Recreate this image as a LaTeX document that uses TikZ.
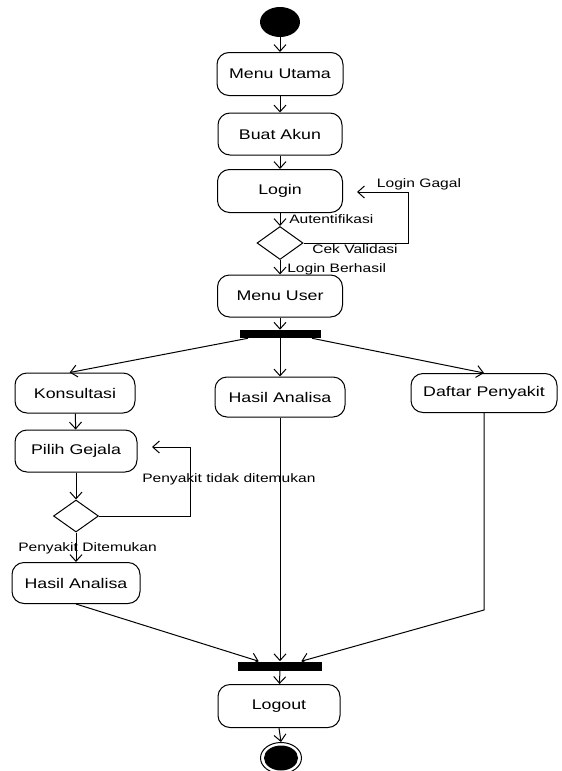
\documentclass[tikz,border=0pt]{standalone}
\usepackage{fontspec}
\setmainfont{Liberation Sans}[FakeStretch=1.27]
\usetikzlibrary{arrows.meta,shapes.geometric,calc}
\begin{document}
\begin{tikzpicture}[x=0.75pt,y=-0.75pt,
  every node/.style={inner sep=0pt},
  box/.style={draw,line width=0.75pt,rounded corners=9pt,font=\fontsize{10.5}{12}\selectfont,align=center},
  dec/.style={draw,line width=0.75pt,diamond,aspect=1.4,minimum width=34.5pt,minimum height=24.75pt},
  bar/.style={fill=black,draw=none,rectangle},
  lbl/.style={font=\fontsize{9.2}{10}\selectfont},
  arr/.style={draw,line width=0.75pt,-{Straight Barb[length=5pt,width=9pt]}},
  ln/.style={draw,line width=0.75pt}]
\useasboundingbox (0,0) rectangle (561,771);
% nodes
\node[ellipse,fill=black,minimum width=30pt,minimum height=22.5pt] (start) at (280,22) {};
\node[box,minimum width=94.5pt,minimum height=32.25pt] (mu) at (280,74) {Menu Utama};
\node[box,minimum width=93pt,minimum height=31.5pt] (ba) at (280,134) {Buat Akun};
\node[box,minimum width=93.75pt,minimum height=32.25pt] (login) at (280,191) {Login};
\node[dec] (d1) at (280,243) {};
\node[box,minimum width=93.75pt,minimum height=31.5pt] (muser) at (280,296) {Menu User};
\node[bar,minimum width=60.75pt,minimum height=6pt] (fork) at (280,334) {};
\node[box,minimum width=90pt,minimum height=30pt] (kons) at (75,393) {Konsultasi};
\node[box,minimum width=97.5pt,minimum height=30pt] (hasil) at (280,397) {Hasil Analisa};
\node[box,minimum width=109.5pt,minimum height=29.25pt] (daftar) at (484,393) {Daftar Penyakit};
\node[box,minimum width=91.5pt,minimum height=31.5pt] (pilih) at (76,451) {Pilih Gejala};
\node[dec,minimum width=33.75pt,minimum height=24pt] (d2) at (76,516) {};
\node[box,minimum width=96pt,minimum height=30.75pt] (hasil2) at (76,583) {Hasil Analisa};
\node[bar,minimum width=63pt,minimum height=6.75pt] (join) at (280,666) {};
\node[box,minimum width=91.5pt,minimum height=32.25pt] (logout) at (279,706) {Logout};
\node[ellipse,draw,line width=0.75pt,minimum width=30.75pt,minimum height=23.25pt] (end) at (281,758) {};
\node[ellipse,fill=black,minimum width=25.5pt,minimum height=18.75pt] (endin) at (281,758) {};
% helper coordinates
\coordinate (c1) at (408,192);
\coordinate (e1) at (357,192);
\coordinate (c2) at (190,447);
\coordinate (e2) at (152,447);
\coordinate (c3) at (484,610);
% connectors
\draw[arr] (start) -- (mu);
\draw[arr] (mu) -- (ba);
\draw[arr] (ba) -- (login);
\draw[arr] (login) -- (d1);
\draw[arr] (d1) -- (muser);
\draw[arr] (muser) -- (fork);
\draw[arr] ([xshift=-24pt]fork.south) -- ([xshift=-4pt]kons.north);
\draw[arr] (fork) -- (hasil);
\draw[arr] ([xshift=24pt]fork.south) -- (daftar.north);
\draw[arr] (kons) -- (pilih);
\draw[arr] (pilih) -- (d2);
\draw[arr] (d2) -- (hasil2);
\draw[arr] (d1.east) -| (c1) -- (e1);
\draw[arr] (d2.east) -| (c2) -- (e2);
\draw[arr] (hasil2.south) -- ([xshift=-16pt]join.north);
\draw[arr] (hasil) -- (join);
\draw[arr] (daftar.south) -- (c3) -- ([xshift=16pt]join.north);
\draw[arr] (join) -- (logout);
\draw[arr] (logout.south) -- (end.north);
% labels
\node[lbl] (l1) at (419,184) {Login Gagal};
\node[lbl,anchor=west] (l2) at (289,219) {Autentifikasi};
\node[lbl,anchor=west] (l3) at (312,249) {Cek Validasi};
\node[lbl,anchor=west] (l4) at (287,269) {Login Berhasil};
\node[lbl,anchor=west] (l5) at (142,479) {Penyakit tidak ditemukan};
\node[lbl,anchor=west] (l6) at (18,548) {Penyakit Ditemukan};
\end{tikzpicture}
\end{document}
